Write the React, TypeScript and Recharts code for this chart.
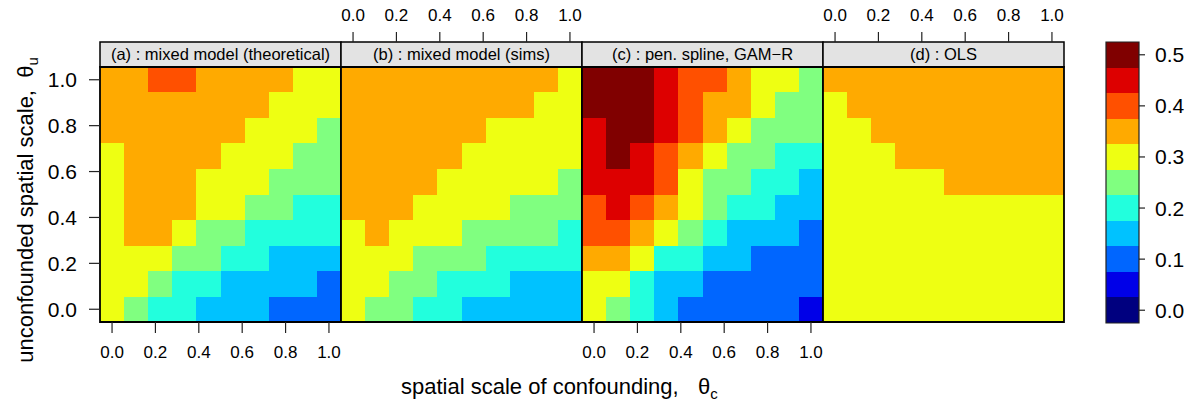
import React from 'react';
import { ComposedChart, XAxis, YAxis, ReferenceArea } from 'recharts';

// grid positions for both spatial scales (10 x 10 design)
const thetaC = [0, 0.111, 0.222, 0.333, 0.444, 0.556, 0.667, 0.778, 0.889, 1];
const thetaU = [0, 0.111, 0.222, 0.333, 0.444, 0.556, 0.667, 0.778, 0.889, 1];

const axisTicks = [0, 0.2, 0.4, 0.6, 0.8, 1];
const keyTicks = [0, 0.1, 0.2, 0.3, 0.4, 0.5];

// colour key: one band per level
const levels = [0, 0.05, 0.1, 0.15, 0.2, 0.25, 0.3, 0.35, 0.4, 0.45, 0.5];
const levelColors = [
  '#00007F', '#0000E8', '#0066FF', '#00C2FF', '#22FFDD', '#80FF80',
  '#EEFF12', '#FFAA00', '#FF5000', '#DD0000', '#800000',
];

// rows run from theta_u = 1 (top) down to theta_u = 0
const mixedTheory = [
  [0.35, 0.35, 0.4, 0.4, 0.35, 0.35, 0.35, 0.35, 0.3, 0.3],
  [0.35, 0.35, 0.35, 0.35, 0.35, 0.35, 0.35, 0.3, 0.3, 0.3],
  [0.35, 0.35, 0.35, 0.35, 0.35, 0.35, 0.3, 0.3, 0.3, 0.25],
  [0.3, 0.35, 0.35, 0.35, 0.35, 0.3, 0.3, 0.3, 0.25, 0.25],
  [0.3, 0.35, 0.35, 0.35, 0.3, 0.3, 0.3, 0.25, 0.25, 0.25],
  [0.3, 0.35, 0.35, 0.35, 0.3, 0.3, 0.25, 0.25, 0.2, 0.2],
  [0.3, 0.35, 0.35, 0.3, 0.25, 0.25, 0.2, 0.2, 0.2, 0.2],
  [0.3, 0.3, 0.3, 0.25, 0.25, 0.2, 0.2, 0.15, 0.15, 0.15],
  [0.3, 0.3, 0.25, 0.2, 0.2, 0.15, 0.15, 0.15, 0.15, 0.1],
  [0.3, 0.25, 0.2, 0.2, 0.15, 0.15, 0.15, 0.1, 0.1, 0.1],
];

const mixedSims = [
  [0.35, 0.35, 0.35, 0.35, 0.35, 0.35, 0.35, 0.35, 0.35, 0.3],
  [0.35, 0.35, 0.35, 0.35, 0.35, 0.35, 0.35, 0.35, 0.3, 0.3],
  [0.35, 0.35, 0.35, 0.35, 0.35, 0.35, 0.3, 0.3, 0.3, 0.3],
  [0.35, 0.35, 0.35, 0.35, 0.35, 0.3, 0.3, 0.3, 0.3, 0.3],
  [0.35, 0.35, 0.35, 0.35, 0.3, 0.3, 0.3, 0.3, 0.3, 0.25],
  [0.35, 0.35, 0.35, 0.3, 0.3, 0.3, 0.3, 0.25, 0.25, 0.25],
  [0.3, 0.35, 0.3, 0.3, 0.3, 0.25, 0.25, 0.25, 0.25, 0.2],
  [0.3, 0.3, 0.3, 0.25, 0.25, 0.25, 0.2, 0.2, 0.2, 0.2],
  [0.3, 0.3, 0.25, 0.25, 0.2, 0.2, 0.2, 0.15, 0.15, 0.15],
  [0.3, 0.25, 0.25, 0.2, 0.2, 0.15, 0.15, 0.15, 0.15, 0.15],
];

const penSpline = [
  [0.5, 0.5, 0.5, 0.45, 0.4, 0.4, 0.35, 0.3, 0.3, 0.25],
  [0.5, 0.5, 0.5, 0.45, 0.4, 0.35, 0.35, 0.3, 0.25, 0.25],
  [0.45, 0.5, 0.5, 0.45, 0.4, 0.35, 0.3, 0.25, 0.25, 0.25],
  [0.45, 0.5, 0.45, 0.4, 0.35, 0.3, 0.25, 0.25, 0.2, 0.2],
  [0.45, 0.45, 0.45, 0.4, 0.3, 0.25, 0.25, 0.2, 0.2, 0.15],
  [0.4, 0.45, 0.4, 0.35, 0.3, 0.25, 0.2, 0.2, 0.15, 0.15],
  [0.4, 0.4, 0.35, 0.3, 0.25, 0.2, 0.15, 0.15, 0.15, 0.1],
  [0.35, 0.35, 0.3, 0.2, 0.2, 0.15, 0.15, 0.1, 0.1, 0.1],
  [0.3, 0.3, 0.2, 0.15, 0.15, 0.1, 0.1, 0.1, 0.1, 0.1],
  [0.3, 0.25, 0.2, 0.15, 0.1, 0.1, 0.1, 0.1, 0.1, 0.05],
];

const ols = [
  [0.35, 0.35, 0.35, 0.35, 0.35, 0.35, 0.35, 0.35, 0.35, 0.35],
  [0.3, 0.35, 0.35, 0.35, 0.35, 0.35, 0.35, 0.35, 0.35, 0.35],
  [0.3, 0.3, 0.35, 0.35, 0.35, 0.35, 0.35, 0.35, 0.35, 0.35],
  [0.3, 0.3, 0.3, 0.35, 0.35, 0.35, 0.35, 0.35, 0.35, 0.35],
  [0.3, 0.3, 0.3, 0.3, 0.3, 0.35, 0.35, 0.35, 0.35, 0.35],
  [0.3, 0.3, 0.3, 0.3, 0.3, 0.3, 0.3, 0.3, 0.3, 0.3],
  [0.3, 0.3, 0.3, 0.3, 0.3, 0.3, 0.3, 0.3, 0.3, 0.3],
  [0.3, 0.3, 0.3, 0.3, 0.3, 0.3, 0.3, 0.3, 0.3, 0.3],
  [0.3, 0.3, 0.3, 0.3, 0.3, 0.3, 0.3, 0.3, 0.3, 0.3],
  [0.3, 0.3, 0.3, 0.3, 0.3, 0.3, 0.3, 0.3, 0.3, 0.3],
];

const panelNames = [
  '(a) : mixed model (theoretical)',
  '(b) : mixed model (sims)',
  '(c) : pen. spline, GAM\u2212R',
  '(d) : OLS',
];
const panelValues = [mixedTheory, mixedSims, penSpline, ols];

// layout (px)
const W = 1195;
const H = 404;
const STRIP_TOP = 42;
const CELL_TOP = 67;
const CELL_BOTTOM = 322;
const PANEL_W = 241;
const PANEL_LEFT = [100, 341, 582, 823];
const FONT = '"Liberation Sans", Arial, Helvetica, sans-serif';

const HALF = 1 / 18;
const LO = -HALF;
const HI = 1 + HALF;
// extend the y range upward so the strip sits inside the plot area
const STRIP_TOP_VALUE = HI + (CELL_TOP - STRIP_TOP) / ((CELL_BOTTOM - CELL_TOP) / (HI - LO));

const colorFor = (v: number) => levelColors[Math.round(v / 0.05)];
const fmt = (v: number) => v.toFixed(1);

// cell edges sit halfway between neighbouring grid points, so cells tile exactly
const edgesOf = (grid: number[]) =>
  grid.map((g, i) => [
    i === 0 ? LO : (grid[i - 1] + g) / 2,
    i === grid.length - 1 ? HI : (g + grid[i + 1]) / 2,
  ]);
const edgesC = edgesOf(thetaC);
const edgesU = edgesOf(thetaU);

const tickLine = { stroke: '#222', strokeWidth: 1.2 };

// plain rect without antialiased seams between neighbouring cells
const CellRect = (props: any) => {
  const { x, y, width, height, fill } = props;
  if (x == null || y == null) return null;
  return (
    <rect
      x={x}
      y={y}
      width={width}
      height={height}
      fill={fill}
      stroke="none"
      shapeRendering="crispEdges"
    />
  );
};

type PanelProps = {
  index: number;
};

const Panel = ({ index }: PanelProps) => {
  const rows = panelValues[index];
  const left = PANEL_LEFT[index];
  const right = left + PANEL_W;
  const hasLeftAxis = index === 0;
  const hasRightAxis = index === 3;
  const topLabels = index % 2 === 1;
  const bottomLabels = index % 2 === 0;
  const leftW = 100;
  const rightW = 40;

  const cells: { x: number; y: number; c: number; u: number; v: number }[] = [];
  rows.forEach((row, r) => {
    const u = thetaU.length - 1 - r;
    row.forEach((v, c) => {
      cells.push({ x: thetaC[c], y: thetaU[u], c, u, v });
    });
  });

  return (
    <div style={{ position: 'absolute', left: 0, top: 0 }}>
      <ComposedChart
        width={W}
        height={H}
        data={cells}
        margin={{
          top: 0,
          bottom: 0,
          left: left - (hasLeftAxis ? leftW : 0),
          right: W - right - (hasRightAxis ? rightW : 0),
        }}
      >
        <XAxis
          xAxisId="bottom"
          type="number"
          dataKey="x"
          orientation="bottom"
          height={H - CELL_BOTTOM}
          domain={[LO, HI]}
          allowDataOverflow
          ticks={axisTicks}
          interval={0}
          tickFormatter={fmt}
          axisLine={false}
          tickLine={tickLine}
          tickSize={11}
          tickMargin={13}
          tick={bottomLabels ? { fill: '#000', fontSize: 17, fontFamily: FONT } : false}
        />
        <XAxis
          xAxisId="top"
          type="number"
          dataKey="x"
          orientation="top"
          height={STRIP_TOP}
          domain={[LO, HI]}
          allowDataOverflow
          ticks={axisTicks}
          interval={0}
          tickFormatter={fmt}
          axisLine={false}
          tickLine={tickLine}
          tickSize={10}
          tickMargin={11}
          tick={topLabels ? { fill: '#000', fontSize: 17, fontFamily: FONT } : false}
        />
        <YAxis
          yAxisId="left"
          type="number"
          dataKey="y"
          orientation="left"
          width={leftW}
          hide={!hasLeftAxis}
          domain={[LO, STRIP_TOP_VALUE]}
          allowDataOverflow
          ticks={axisTicks}
          interval={0}
          tickFormatter={fmt}
          axisLine={false}
          tickLine={tickLine}
          tickSize={11}
          tickMargin={12}
          tick={{ fill: '#000', fontSize: 21, fontFamily: FONT }}
        />
        <YAxis
          yAxisId="right"
          type="number"
          dataKey="y"
          orientation="right"
          width={rightW}
          hide={!hasRightAxis}
          domain={[LO, STRIP_TOP_VALUE]}
          allowDataOverflow
          ticks={axisTicks}
          interval={0}
          axisLine={false}
          tickLine={tickLine}
          tickSize={11}
          tick={false}
        />
        {cells.map((cell, i) => (
          <ReferenceArea
            key={i}
            xAxisId="bottom"
            yAxisId="left"
            x1={edgesC[cell.c][0]}
            x2={edgesC[cell.c][1]}
            y1={edgesU[cell.u][0]}
            y2={edgesU[cell.u][1]}
            fill={colorFor(cell.v)}
            fillOpacity={1}
            shape={CellRect}
            ifOverflow="hidden"
          />
        ))}
        <ReferenceArea
          xAxisId="bottom"
          yAxisId="left"
          x1={LO}
          x2={HI}
          y1={HI}
          y2={STRIP_TOP_VALUE}
          fill="#E3E3E3"
          fillOpacity={1}
          stroke="#000"
          strokeWidth={1.5}
          ifOverflow="visible"
          label={{ value: panelNames[index], position: 'center', fill: '#000', fontSize: 16.5, fontFamily: FONT }}
        />
        <ReferenceArea
          xAxisId="bottom"
          yAxisId="left"
          x1={LO}
          x2={HI}
          y1={LO}
          y2={HI}
          fill="none"
          stroke="#000"
          strokeWidth={1.8}
          ifOverflow="visible"
        />
      </ComposedChart>
    </div>
  );
};

const ColorKey = () => {
  const keyW = 105;
  const barLeft = 16;
  const barRight = 49;
  return (
    <div style={{ position: 'absolute', left: 1090, top: 0 }}>
      <ComposedChart
        width={keyW}
        height={H}
        data={levels.map((l) => ({ x: 0.5, y: l }))}
        margin={{ top: STRIP_TOP, bottom: H - 323, left: barLeft, right: 0 }}
      >
        <XAxis type="number" dataKey="x" domain={[0, 1]} hide />
        <YAxis
          type="number"
          dataKey="y"
          orientation="right"
          width={keyW - barRight}
          domain={[-0.025, 0.525]}
          allowDataOverflow
          ticks={keyTicks}
          interval={0}
          tickFormatter={fmt}
          axisLine={false}
          tickLine={tickLine}
          tickSize={6}
          tickMargin={10}
          tick={{ fill: '#000', fontSize: 21, fontFamily: FONT }}
        />
        {levels.map((l, i) => (
          <ReferenceArea
            key={l}
            x1={0}
            x2={1}
            y1={i === 0 ? -0.025 : (levels[i - 1] + l) / 2}
            y2={i === levels.length - 1 ? 0.525 : (l + levels[i + 1]) / 2}
            fill={levelColors[i]}
            fillOpacity={1}
            shape={CellRect}
            ifOverflow="hidden"
          />
        ))}
        <ReferenceArea
          x1={0}
          x2={1}
          y1={-0.025}
          y2={0.525}
          fill="none"
          stroke="#222"
          strokeWidth={1.2}
          ifOverflow="visible"
        />
      </ComposedChart>
    </div>
  );
};

const Titles = () => (
  <svg
    width={W}
    height={H}
    style={{ position: 'absolute', left: 0, top: 0, pointerEvents: 'none' }}
    fontFamily={FONT}
  >
    <text x={401} y={394} fontSize={22} fill="#000">
      spatial scale of confounding,
      <tspan x={698}>θ</tspan>
      <tspan dy={5} fontSize={15}>c</tspan>
    </text>
    <text
      x={33}
      y={210}
      fontSize={22}
      fill="#000"
      textAnchor="middle"
      transform="rotate(-90 33 210)"
      style={{ whiteSpace: 'pre' }}
    >
      {'unconfounded spatial scale,  θ'}
      <tspan dy={5} fontSize={15}>u</tspan>
    </text>
  </svg>
);

export default function App() {
  return (
    <div
      style={{
        position: 'absolute',
        left: 0,
        top: 0,
        width: W,
        height: H,
        background: '#fff',
        fontFamily: FONT,
      }}
    >
      {[0, 1, 2, 3].map((i) => (
        <Panel key={i} index={i} />
      ))}
      <ColorKey />
      <Titles />
    </div>
  );
}
